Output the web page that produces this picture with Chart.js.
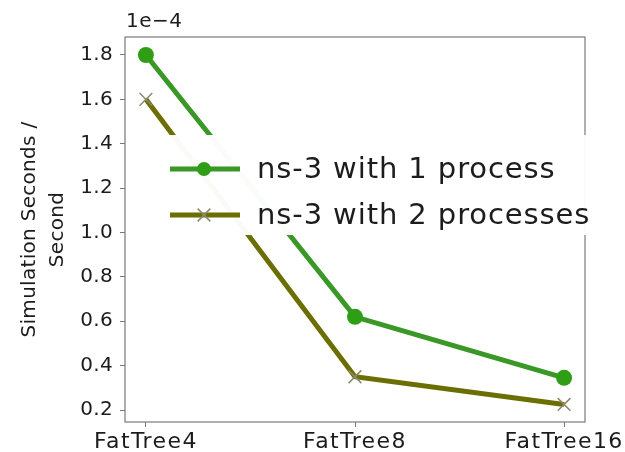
<!DOCTYPE html>
<html>
<head>
<meta charset="utf-8">
<script src="https://cdn.jsdelivr.net/npm/chart.js@4/dist/chart.umd.min.js"></script>
<style>
    html, body { margin: 0; padding: 0; background: #fff; }
    #wrap { width: 625px; height: 452px; }
</style>
</head>
<body>
<div id="wrap"><canvas id="chart" width="625" height="452"></canvas></div>
<script>
// Values (simulation seconds per second).
const categories = ["FatTree4", "FatTree8", "FatTree16"];
const oneProcess = [1.80e-4, 0.62e-4, 0.345e-4];
const twoProcesses = [1.60e-4, 0.35e-4, 0.225e-4];
const yTicks = [0.2e-4, 0.4e-4, 0.6e-4, 0.8e-4, 1.0e-4, 1.2e-4, 1.4e-4, 1.6e-4, 1.8e-4];
const seriesLabels = ["ns-3 with 1 process", "ns-3 with 2 processes"];

const TEXT = "#1c1c1c";
const FONT = "'DejaVu Sans', sans-serif";

const toPoints = (values) => values.map((y, i) => ({ x: i, y }));

// The source text is a bit wider than DejaVu at the same height,
// so widen it with letter spacing. x scale draws before datasets,
// the y scale layers (z 1) after them.
const spacingPlugin = {
    id: "spacing",
    beforeDraw(chart) {
        chart.ctx.letterSpacing = "1.4px";
    },
};

// Axes frame on all four sides, like a matplotlib box.
const framePlugin = {
    id: "frame",
    beforeDatasetsDraw(chart) {
        const { ctx, chartArea: a } = chart;
        ctx.save();
        ctx.strokeStyle = "#7a7a7a";
        ctx.lineWidth = 1.2;
        ctx.strokeRect(a.left, a.top, a.right - a.left, a.bottom - a.top);
        ctx.restore();
    },
    afterDraw(chart) {
        const { ctx, chartArea: a } = chart;
        ctx.save();
        ctx.letterSpacing = "0.5px";
        ctx.fillStyle = TEXT;
        ctx.font = "20px " + FONT;
        ctx.textBaseline = "alphabetic";
        ctx.fillText("1e\u22124", a.left + 1, a.top - 10);
        ctx.restore();
    },
};

// Legend box sits over the plot and past its right edge.
const legendPlugin = {
    id: "boxLegend",
    afterDatasetsDraw(chart) {
        const { ctx } = chart;
        ctx.save();
        ctx.fillStyle = "rgba(255,255,255,0.97)";
        ctx.fillRect(157, 135, 441, 100);
        const rows = [169, 215];
        chart.data.datasets.forEach((ds, i) => {
            const y = rows[i];
            ctx.strokeStyle = ds.borderColor;
            ctx.lineWidth = 5;
            ctx.beginPath();
            ctx.moveTo(170, y);
            ctx.lineTo(240, y);
            ctx.stroke();
            ctx.fillStyle = ds.pointBackgroundColor;
            ctx.strokeStyle = ds.pointBorderColor;
            ctx.lineWidth = ds.pointBorderWidth;
            Chart.helpers.drawPoint(ctx, {
                pointStyle: ds.pointStyle,
                rotation: 0,
                radius: ds.pointStyle === "circle" ? 7 : 9,
                borderWidth: ds.pointBorderWidth,
            }, 204, y);
            ctx.letterSpacing = "0.9px";
            ctx.fillStyle = TEXT;
            ctx.font = "29px " + FONT;
            ctx.textBaseline = "middle";
            ctx.fillText(ds.label, 257, y + 1);
        });
        ctx.restore();
        // y scale (drawn next) gets a lighter spacing
        ctx.letterSpacing = "0.3px";
    },
};

new Chart(document.getElementById("chart"), {
    type: "line",
    data: {
        datasets: [
            {
                label: seriesLabels[0],
                data: toPoints(oneProcess),
                borderColor: "#3a9826",
                borderWidth: 5,
                pointStyle: "circle",
                pointRadius: 8,
                pointBackgroundColor: "#2f9e14",
                pointBorderColor: "#2f9e14",
                pointBorderWidth: 0,
            },
            {
                label: seriesLabels[1],
                data: toPoints(twoProcesses),
                borderColor: "#6b6e00",
                borderWidth: 5,
                pointStyle: "crossRot",
                pointRadius: 9,
                pointBackgroundColor: "#8a8a6c",
                pointBorderColor: "#8a8a6c",
                pointBorderWidth: 1.5,
            },
        ],
    },
    options: {
        responsive: false,
        animation: false,
        clip: false,
        layout: { padding: { top: 37, right: 40, left: 0, bottom: 0 } },
        plugins: {
            legend: { display: false },
            tooltip: { enabled: false },
        },
        scales: {
            x: {
                type: "linear",
                min: -0.1,
                max: 2.1,
                afterBuildTicks: (scale) => {
                    scale.ticks = categories.map((_, i) => ({ value: i }));
                },
                afterFit: (scale) => {
                    scale.height = 30;
                },
                ticks: {
                    color: TEXT,
                    font: { family: FONT, size: 22 },
                    padding: 2,
                    maxRotation: 0,
                    callback: (v) => categories[v],
                },
                grid: {
                    drawOnChartArea: false,
                    drawTicks: true,
                    tickLength: 5,
                    color: "#7a7a7a",
                },
                border: { display: false },
            },
            y: {
                min: 0.146e-4,
                max: 1.881e-4,
                afterBuildTicks: (scale) => {
                    scale.ticks = yTicks.map((value) => ({ value }));
                },
                afterFit: (scale) => {
                    scale.width = 125;
                },
                ticks: {
                    z: 1,
                    color: TEXT,
                    font: { family: FONT, size: 20 },
                    padding: 7,
                    callback: (v) => (v * 1e4).toFixed(1),
                },
                grid: {
                    z: 1,
                    drawOnChartArea: false,
                    drawTicks: true,
                    tickLength: 5,
                    color: "#7a7a7a",
                },
                border: { display: false },
                title: {
                    display: true,
                    text: ["Simulation Seconds /", "Second"],
                    color: TEXT,
                    font: { family: FONT, size: 20, lineHeight: 1.4 },
                    padding: { top: 16, bottom: 0 },
                },
            },
        },
    },
    plugins: [spacingPlugin, framePlugin, legendPlugin],
});
</script>
</body>
</html>
